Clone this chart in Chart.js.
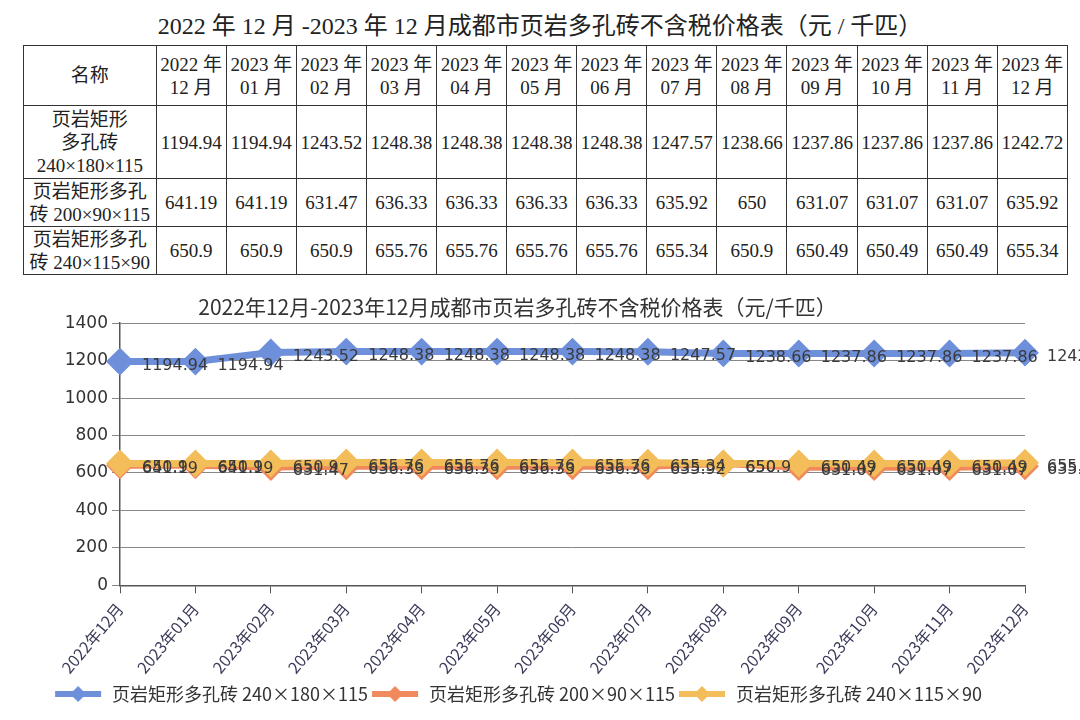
<!DOCTYPE html>
<html><head><meta charset="utf-8">
<script src="https://cdn.jsdelivr.net/npm/chart.js@4"></script>
<style>
html,body{margin:0;padding:0;background:#fff;width:1080px;height:720px;overflow:hidden;}
#ttl{position:absolute;left:0;top:6px;width:1080px;text-align:center;font:24px "Liberation Serif","Noto Sans CJK SC",serif;color:#222;}
table{position:absolute;left:23px;top:45px;width:1045px;border-collapse:collapse;font:19px "Liberation Serif","Noto Sans CJK SC",serif;color:#222;}
td{border:1px solid #333;text-align:center;padding:0;line-height:23px;white-space:nowrap;}
#wrap{position:absolute;left:0;top:294px;width:1080px;height:419px;}
</style></head><body>
<div id="ttl">2022 年 12 月 -2023 年 12 月成都市页岩多孔砖不含税价格表（元 / 千匹）</div>
<table id="tbl"></table>
<div id="wrap"><canvas id="c"></canvas></div>
<script>
const categories = ["2022年12月","2023年01月","2023年02月","2023年03月","2023年04月","2023年05月","2023年06月","2023年07月","2023年08月","2023年09月","2023年10月","2023年11月","2023年12月"];
const seriesNames = ["页岩矩形多孔砖 240×180×115","页岩矩形多孔砖 200×90×115","页岩矩形多孔砖 240×115×90"];
const tableNames = ["页岩矩形<br>多孔砖<br>240×180×115","页岩矩形多孔<br>砖 200×90×115","页岩矩形多孔<br>砖 240×115×90"];
const s1 = [1194.94,1194.94,1243.52,1248.38,1248.38,1248.38,1248.38,1247.57,1238.66,1237.86,1237.86,1237.86,1242.72];
const s2 = [641.19,641.19,631.47,636.33,636.33,636.33,636.33,635.92,650,631.07,631.07,631.07,635.92];
const s3 = [650.9,650.9,650.9,655.76,655.76,655.76,655.76,655.34,650.9,650.49,650.49,650.49,655.34];
const yTicks = [0,200,400,600,800,1000,1200,1400];
const colors = ["#6e8fda","#f08a5d","#f3bd5a"];

// table
const tbl = document.getElementById('tbl');
let h = '<tr style="height:60px"><td style="width:133px">名称</td>';
categories.forEach(c=>{const m=c.match(/(\d+)年(\d+)月/);h+='<td style="width:70px">'+m[1]+' 年<br>'+m[2]+' 月</td>';});
h+='</tr>';
[s1,s2,s3].forEach((s,i)=>{
  h+='<tr style="height:'+(i===0?73:48)+'px"><td>'+tableNames[i]+'</td>';
  s.forEach(v=>h+='<td>'+v+'</td>');
  h+='</tr>';
});
tbl.innerHTML=h;

function legendIcon(col){
  const cv=document.createElement('canvas');cv.width=50;cv.height=20;
  const g=cv.getContext('2d');
  g.strokeStyle=col;g.lineWidth=6;g.beginPath();g.moveTo(2,10);g.lineTo(48,10);g.stroke();
  g.fillStyle=col;g.beginPath();g.moveTo(25,2);g.lineTo(33,10);g.lineTo(25,18);g.lineTo(17,10);g.closePath();g.fill();
  return cv;
}
const icons = colors.map(legendIcon);

const labelPlugin = {
  id:'vlabels',
  afterDatasetsDraw(chart){
    const ctx=chart.ctx;
    ctx.save();
    ctx.font='16px "DejaVu Sans", sans-serif';
    ctx.fillStyle='#3a3a3a';
    ctx.textBaseline='middle';
    ctx.textAlign='left';
    chart.data.datasets.forEach((ds,i)=>{
      const meta=chart.getDatasetMeta(i);
      meta.data.forEach((pt,j)=>{
        ctx.fillText(String(ds.data[j]), pt.x+22, pt.y+4);
      });
    });
    ctx.restore();
  }
};

new Chart(document.getElementById('c'),{
  type:'line',
  data:{labels:categories,datasets:[s1,s2,s3].map((s,i)=>({
    label:seriesNames[i],data:s,borderColor:colors[i],backgroundColor:colors[i],
    borderWidth:7,pointStyle:'rectRot',pointRadius:9,pointHoverRadius:9,tension:0,order:[0,2,1][i]
  }))},
  options:{
    responsive:true,maintainAspectRatio:false,animation:false,
    layout:{padding:{left:10,right:55,top:0,bottom:0}},
    plugins:{
      title:{display:true,text:'2022年12月-2023年12月成都市页岩多孔砖不含税价格表（元/千匹）',
        font:{size:21,weight:'normal',family:'"Noto Sans CJK SC", sans-serif'},color:'#333',padding:{top:0,bottom:4}},
      legend:{position:'bottom',labels:{usePointStyle:true,pointStyleWidth:50,color:'#333',font:{size:18,family:'"Noto Sans CJK SC", sans-serif'},
        padding:2,
        generateLabels(chart){
          return chart.data.datasets.map((ds,i)=>({text:ds.label,pointStyle:icons[i],fillStyle:colors[i],strokeStyle:colors[i],lineWidth:0,datasetIndex:i,hidden:false,fontColor:'#333'}));
        }}},
      tooltip:{enabled:false}
    },
    scales:{
      x:{offset:false,grid:{drawOnChartArea:false,color:'#555',tickLength:8},border:{color:'#555',width:1.5},
        ticks:{maxRotation:50,minRotation:50,color:'#3a3a5a',font:{size:16,family:'"Noto Sans CJK SC", sans-serif'},padding:6}},
      y:{min:0,max:1400,afterBuildTicks(ax){ax.ticks=yTicks.map(v=>({value:v}));},
        grid:{color:'#888',tickLength:8},border:{color:'#555',width:1.5},
        ticks:{color:'#333',font:{size:17,family:'"DejaVu Sans", sans-serif'},padding:4,callback:v=>String(v)},
        afterFit(ax){ax.width=110;}}
    }
  },
  plugins:[labelPlugin]
});
</script>
</body></html>
